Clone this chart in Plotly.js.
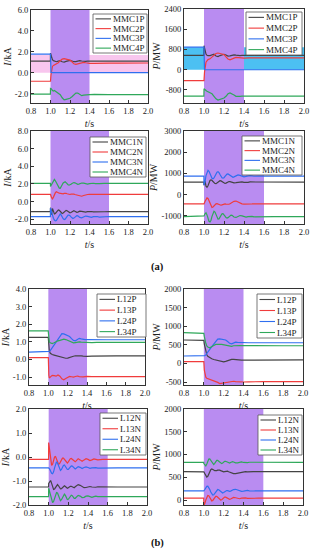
<!DOCTYPE html>
<html><head><meta charset="utf-8">
<script src="https://cdn.plot.ly/plotly-3.0.1.min.js"></script>
<style>html,body{margin:0;padding:0;background:#fff}#chart{width:314px;height:550px}</style>
</head><body><div id="chart"></div>
<script>
// ---------- time axes ----------
const tP = [0.8, 0.999, 1.0, 1.005, 1.01, 1.02, 1.03, 1.04, 1.06, 1.08, 1.10, 1.12, 1.14, 1.16, 1.18, 1.20, 1.22, 1.24, 1.26, 1.28, 1.30, 1.32, 1.34, 1.36, 1.38, 1.40, 1.45, 1.50, 1.55, 1.60, 1.70, 1.80, 1.90, 2.0];
const tN = [0.8, 0.999, 1.00, 1.01, 1.02, 1.03, 1.04, 1.05, 1.06, 1.07, 1.08, 1.09, 1.10, 1.11, 1.12, 1.13, 1.14, 1.15, 1.16, 1.17, 1.18, 1.19, 1.20, 1.21, 1.22, 1.23, 1.24, 1.25, 1.26, 1.27, 1.28, 1.29, 1.30, 1.32, 1.34, 1.36, 1.38, 1.40, 1.42, 1.44, 1.46, 1.48, 1.50, 1.55, 1.60, 1.70, 1.80, 1.90, 2.0];

// ---------- (a) MMC positive pole currents, kA ----------
const I_MMC1P = [1.1, 1.1, 1.88, 1.7, 1.45, 1.25, 1.15, 1.1, 1.05, 1.1, 1.15, 1.05, 1.02, 1.08, 1.15, 1.18, 1.12, 1.05, 1.06, 1.12, 1.15, 1.12, 1.08, 1.08, 1.1, 1.12, 1.1, 1.1, 1.12, 1.1, 1.1, 1.1, 1.11, 1.1];
const I_MMC2P = [-0.82, -0.82, -0.8, -0.2, 0.3, 0.6, 0.7, 0.75, 0.8, 0.95, 1.15, 1.3, 1.35, 1.3, 1.25, 1.2, 1.05, 0.85, 0.8, 0.85, 0.95, 1.0, 0.98, 0.95, 0.92, 0.9, 0.9, 0.92, 0.9, 0.92, 0.92, 0.93, 0.93, 0.93];
const I_MMC3P = [1.78, 1.78, 1.78, 0.02, 0, 0, 0, 0, 0, 0, 0, 0, 0, 0, 0, 0, 0, 0, 0, 0, 0, 0, 0, 0, 0, 0, 0, 0, 0, 0, 0, 0, 0, 0];
const I_MMC4P = [-2.05, -2.05, -1.5, -1.5, -1.55, -1.7, -1.75, -1.7, -1.85, -1.95, -2.1, -2.4, -2.6, -2.55, -2.5, -2.45, -2.3, -2.1, -1.95, -1.95, -2.1, -2.2, -2.15, -2.12, -2.1, -2.1, -2.08, -2.1, -2.1, -2.1, -2.1, -2.1, -2.1, -2.1];
// ---------- (a) MMC positive pole power, MW ----------
const P_MMC1P = [570, 570, 950, 850, 720, 620, 570, 555, 560, 600, 610, 540, 520, 560, 600, 610, 580, 540, 545, 580, 590, 575, 560, 560, 565, 570, 565, 570, 575, 570, 570, 570, 572, 570];
const P_MMC2P = [-430, -430, -430, -100, 150, 300, 350, 400, 430, 500, 580, 640, 660, 650, 620, 600, 520, 420, 390, 410, 460, 490, 480, 470, 460, 460, 465, 470, 465, 468, 468, 470, 470, 470];
const P_MMC3P = [893, 893, 893, 10, 0, 0, 0, 0, 0, 0, 0, 0, 0, 0, 0, 0, 0, 0, 0, 0, 0, 0, 0, 0, 0, 0, 0, 0, 0, 0, 0, 0, 0, 0];
const P_MMC4P = [-1040, -1040, -750, -760, -780, -820, -850, -870, -900, -950, -1050, -1150, -1200, -1180, -1150, -1120, -1050, -950, -920, -950, -1000, -1050, -1060, -1050, -1045, -1040, -1035, -1040, -1040, -1040, -1040, -1040, -1040, -1040];
// ---------- (a) MMC negative pole currents, kA ----------
const I_MMC1N = [-1.15, -1.15, -0.7, -1.5, -0.8, -1.1, -1.4, -1.35, -1.2, -1.05, -0.95, -1.0, -1.15, -1.3, -1.35, -1.3, -1.2, -1.05, -1.0, -1.05, -1.15, -1.25, -1.28, -1.25, -1.15, -1.08, -1.05, -1.1, -1.18, -1.22, -1.2, -1.15, -1.1, -1.12, -1.18, -1.2, -1.15, -1.12, -1.13, -1.17, -1.18, -1.15, -1.14, -1.16, -1.15, -1.15, -1.15, -1.15, -1.15];
const I_MMC2N = [0.82, 0.82, 0.8, 0.45, 0.3, 0.5, 0.8, 1.0, 1.1, 1.08, 1.0, 0.95, 0.92, 0.88, 0.85, 0.88, 0.92, 0.95, 0.93, 0.88, 0.83, 0.8, 0.8, 0.83, 0.86, 0.86, 0.84, 0.8, 0.78, 0.76, 0.72, 0.68, 0.64, 0.6, 0.68, 0.76, 0.8, 0.82, 0.8, 0.82, 0.83, 0.82, 0.8, 0.82, 0.82, 0.82, 0.82, 0.82, 0.82];
const I_MMC3N = [-1.72, -1.72, -0.75, -1.2, -1.6, -1.9, -2.1, -2.2, -2.15, -1.95, -1.65, -1.45, -1.4, -1.55, -1.8, -1.95, -2.05, -2.0, -1.85, -1.65, -1.55, -1.55, -1.6, -1.75, -1.88, -1.92, -1.88, -1.78, -1.65, -1.6, -1.62, -1.7, -1.8, -1.85, -1.75, -1.65, -1.68, -1.78, -1.8, -1.72, -1.67, -1.7, -1.76, -1.72, -1.7, -1.72, -1.72, -1.72, -1.72];
const I_MMC4N = [2.05, 2.05, 1.7, 1.9, 2.25, 2.45, 2.5, 2.35, 2.1, 1.85, 1.65, 1.52, 1.5, 1.65, 1.9, 2.1, 2.22, 2.25, 2.15, 2.0, 1.9, 1.85, 1.87, 1.95, 2.05, 2.12, 2.15, 2.12, 2.05, 1.98, 1.95, 1.97, 2.02, 2.1, 2.08, 2.0, 1.98, 2.03, 2.08, 2.07, 2.02, 2.01, 2.04, 2.06, 2.05, 2.05, 2.05, 2.05, 2.05];
// ---------- (a) MMC negative pole power, MW ----------
const P_MMC1N = [590, 590, 450, 650, 400, 350, 420, 560, 670, 700, 680, 620, 560, 525, 520, 550, 600, 645, 660, 650, 610, 565, 535, 530, 545, 575, 605, 620, 615, 600, 580, 565, 560, 565, 590, 610, 605, 585, 570, 580, 600, 600, 590, 588, 592, 590, 590, 590, 590];
const P_MMC2N = [-430, -430, -430, -320, -200, -150, -180, -300, -450, -560, -600, -580, -520, -460, -430, -420, -440, -470, -490, -495, -480, -455, -440, -435, -440, -450, -455, -450, -430, -400, -360, -330, -310, -300, -340, -400, -430, -440, -430, -420, -430, -435, -430, -425, -430, -430, -430, -430, -430];
const P_MMC3N = [875, 875, 450, 600, 900, 1100, 1150, 1100, 980, 850, 770, 750, 790, 880, 990, 1060, 1080, 1040, 950, 860, 800, 780, 800, 860, 930, 970, 980, 950, 900, 850, 825, 820, 840, 900, 930, 910, 865, 845, 860, 895, 900, 885, 870, 880, 875, 875, 875, 875, 875];
const P_MMC4N = [-1030, -1030, -1000, -900, -850, -950, -1120, -1250, -1280, -1200, -1020, -850, -780, -820, -950, -1080, -1150, -1140, -1060, -960, -900, -890, -930, -1010, -1080, -1100, -1080, -1030, -980, -960, -975, -1010, -1050, -1070, -1010, -980, -1000, -1045, -1055, -1030, -1010, -1020, -1040, -1030, -1030, -1030, -1030, -1030, -1030];
// ---------- (b) line positive pole currents, kA ----------
const I_L12P = [1.25, 1.25, 1.2, 0.8, 0.5, 0.35, 0.3, 0.28, 0.25, 0.22, 0.2, 0.17, 0.12, 0.09, 0.07, 0.08, 0.1, 0.14, 0.18, 0.21, 0.22, 0.21, 0.2, 0.19, 0.18, 0.18, 0.19, 0.2, 0.2, 0.19, 0.2, 0.2, 0.2, 0.2];
const I_L13P = [0.1, 0.1, 0.1, -0.9, -1.05, -1.0, -0.95, -0.9, -0.92, -0.95, -0.88, -0.95, -1.1, -1.15, -1.08, -1.02, -0.96, -0.98, -1.0, -0.97, -0.94, -0.97, -1.0, -0.99, -0.97, -0.96, -0.98, -0.97, -0.96, -0.97, -0.97, -0.97, -0.97, -0.97];
const I_L24P = [0.42, 0.42, 0.42, 0.44, 0.46, 0.5, 0.58, 0.68, 0.88, 1.05, 1.2, 1.35, 1.47, 1.45, 1.4, 1.37, 1.3, 1.18, 1.08, 1.06, 1.15, 1.2, 1.17, 1.14, 1.13, 1.13, 1.12, 1.14, 1.12, 1.12, 1.12, 1.12, 1.12, 1.12];
const I_L34P = [1.62, 1.62, 1.55, 1.1, 1.0, 0.95, 0.92, 0.9, 0.95, 1.02, 1.06, 1.08, 1.12, 1.15, 1.13, 1.08, 1.02, 0.96, 0.94, 0.96, 1.0, 1.0, 0.98, 0.97, 0.97, 0.97, 0.96, 0.97, 0.97, 0.97, 0.97, 0.97, 0.97, 0.97];
// ---------- (b) line positive pole power, MW ----------
const P_L12P = [630, 630, 620, 520, 440, 330, 230, 190, 150, 125, 105, 90, 70, 55, 45, 40, 55, 75, 95, 110, 108, 100, 95, 92, 90, 90, 92, 95, 95, 95, 95, 95, 95, 95];
const P_L13P = [50, 50, 50, -180, -300, -370, -400, -410, -420, -430, -450, -470, -510, -540, -530, -520, -505, -490, -480, -470, -480, -490, -495, -498, -500, -500, -495, -490, -490, -490, -490, -490, -490, -490];
const P_L24P = [200, 200, 200, 205, 210, 230, 270, 320, 390, 450, 520, 600, 655, 660, 655, 648, 630, 590, 540, 525, 545, 570, 565, 560, 558, 556, 555, 555, 555, 555, 555, 555, 555, 555];
const P_L34P = [825, 825, 810, 720, 640, 540, 470, 440, 420, 440, 480, 510, 520, 515, 510, 500, 480, 465, 455, 460, 475, 482, 480, 478, 476, 475, 474, 475, 475, 475, 475, 475, 475, 475];
// ---------- (b) line negative pole currents, kA ----------
const I_L12N = [-1.25, -1.25, -1.1, -1.0, -0.98, -1.1, -1.25, -1.35, -1.33, -1.25, -1.17, -1.15, -1.2, -1.28, -1.33, -1.32, -1.27, -1.22, -1.2, -1.23, -1.28, -1.3, -1.28, -1.24, -1.22, -1.22, -1.25, -1.28, -1.28, -1.24, -1.2, -1.16, -1.15, -1.18, -1.24, -1.28, -1.27, -1.24, -1.23, -1.25, -1.27, -1.26, -1.24, -1.25, -1.25, -1.25, -1.25, -1.25, -1.25];
const I_L13N = [-0.1, -0.1, 0.6, 0.2, -0.2, -0.35, -0.3, -0.15, 0.0, 0.02, -0.1, -0.22, -0.3, -0.28, -0.2, -0.1, -0.05, -0.05, -0.1, -0.18, -0.23, -0.25, -0.2, -0.12, -0.07, -0.06, -0.1, -0.15, -0.2, -0.2, -0.16, -0.1, -0.07, -0.12, -0.18, -0.12, -0.07, -0.1, -0.15, -0.12, -0.08, -0.1, -0.12, -0.1, -0.1, -0.1, -0.1, -0.1, -0.1];
const I_L24N = [-0.45, -0.45, -0.45, -0.5, -0.6, -0.68, -0.7, -0.62, -0.45, -0.3, -0.2, -0.25, -0.38, -0.5, -0.56, -0.52, -0.43, -0.35, -0.33, -0.38, -0.46, -0.52, -0.52, -0.47, -0.4, -0.37, -0.38, -0.43, -0.48, -0.5, -0.47, -0.42, -0.4, -0.43, -0.48, -0.44, -0.41, -0.44, -0.47, -0.45, -0.43, -0.44, -0.46, -0.45, -0.45, -0.45, -0.45, -0.45, -0.45];
const I_L34N = [-1.65, -1.65, -1.3, -1.45, -1.65, -1.82, -1.9, -1.85, -1.7, -1.55, -1.48, -1.5, -1.62, -1.75, -1.82, -1.78, -1.68, -1.58, -1.55, -1.6, -1.7, -1.77, -1.76, -1.7, -1.62, -1.59, -1.61, -1.67, -1.72, -1.72, -1.68, -1.63, -1.6, -1.63, -1.69, -1.68, -1.63, -1.62, -1.66, -1.68, -1.65, -1.63, -1.65, -1.66, -1.65, -1.65, -1.65, -1.65, -1.65];
// ---------- (b) line negative pole power, MW ----------
const P_L12N = [625, 625, 620, 580, 530, 505, 520, 570, 630, 665, 680, 675, 660, 645, 640, 645, 655, 660, 655, 645, 630, 620, 618, 622, 630, 635, 632, 622, 610, 598, 588, 582, 580, 580, 590, 605, 620, 628, 625, 618, 615, 620, 625, 622, 625, 625, 625, 625, 625];
const P_L13N = [40, 40, -120, -80, 0, 70, 100, 95, 50, 0, -20, -10, 25, 60, 80, 80, 60, 35, 10, 0, 5, 25, 50, 62, 62, 50, 32, 18, 15, 22, 38, 52, 58, 50, 30, 28, 42, 52, 48, 35, 33, 42, 45, 40, 40, 40, 40, 40, 40];
const P_L24N = [200, 200, 200, 230, 270, 300, 305, 280, 230, 175, 130, 110, 115, 145, 185, 215, 230, 225, 205, 180, 160, 155, 165, 185, 200, 208, 205, 195, 190, 195, 208, 222, 230, 235, 220, 200, 190, 195, 208, 210, 202, 195, 198, 202, 200, 200, 200, 200, 200];
const P_L34N = [825, 825, 800, 760, 750, 790, 860, 900, 905, 870, 820, 785, 780, 805, 845, 870, 870, 850, 820, 800, 800, 815, 835, 850, 850, 838, 820, 810, 812, 825, 838, 842, 835, 815, 815, 832, 838, 825, 815, 820, 830, 830, 822, 825, 825, 825, 825, 825, 825];

// ---------- labels, ticks, bands ----------
const namesMMC_P = ['MMC1P', 'MMC2P', 'MMC3P', 'MMC4P'];
const namesMMC_N = ['MMC1N', 'MMC2N', 'MMC3N', 'MMC4N'];
const namesL_P = ['L12P', 'L13P', 'L24P', 'L34P'];
const namesL_N = ['L12N', 'L13N', 'L24N', 'L34N'];
const xTickVals = [0.8, 1.0, 1.2, 1.4, 1.6, 1.8, 2.0];
const xTickText = ['0.8', '1.0', '1.2', '1.4', '1.6', '1.8', '2.0'];
const yTicks1 = [-2, 0, 2, 4, 6];           const yText1 = ['-2.0', '0.0', '2.0', '4.0', '6.0'];
const yTicks2 = [-800, 0, 800, 1600, 2400]; const yText2 = ['-800', '0', '800', '1600', '2400'];
const yTicks3 = [-2, 0, 2, 4, 6, 8];        const yText3 = ['-2.0', '0.0', '2.0', '4.0', '6.0', '8.0'];
const yTicks4 = [-1000, 0, 1000, 2000, 3000]; const yText4 = ['-1000', '0', '1000', '2000', '3000'];
const yTicks5 = [-1, 0, 1, 2, 3, 4];        const yText5 = ['-1.0', '0.0', '1.0', '2.0', '3.0', '4.0'];
const yTicks6 = [-500, 0, 500, 1000, 1500, 2000]; const yText6 = ['-500', '0', '500', '1000', '1500', '2000'];
const yTicks7 = [-2, -1, 0, 1, 2];          const yText7 = ['-2.0', '-1.0', '0.0', '1.0', '2.0'];
const yTicks8 = [0, 500, 1000, 1500, 2000]; const yText8 = ['0', '500', '1000', '1500', '2000'];
const faultWindows = [[1.0, 1.4], [1.0, 1.4], [1.0, 1.6], [1.0, 1.6], [1.0, 1.4], [1.0, 1.4], [1.0, 1.6], [1.0, 1.6]];
const pinkBand = [0, 1.7];     // panel 1
const cyanBand = [0, 893];     // panel 2

// ---------- styling / layout ----------
const W = 314, H = 550;
const F = 'Liberation Serif, Times New Roman, serif';
const COLORS = ['#444444', '#f03c3c', '#2f6fef', '#2fa85a'];
const PURPLE = '#b98cf1';

// panel pixel boxes: [left, top, right, bottom]
const panels = [
  {box: [31, 10, 148, 103], range: [-2.9, 6], tv: yTicks1, tt: yText1, yt: '<i>I</i>/kA', t: tP, ys: [I_MMC1P, I_MMC2P, I_MMC3P, I_MMC4P], names: namesMMC_P, leg: [93, 14, 147, 53]},
  {box: [184, 9, 304, 103], range: [-1315, 2400], tv: yTicks2, tt: yText2, yt: '<i>P</i>/MW', t: tP, ys: [P_MMC1P, P_MMC2P, P_MMC3P, P_MMC4P], names: namesMMC_P, leg: [246, 12, 302, 55]},
  {box: [31, 131, 148, 224], range: [-2.55, 8], tv: yTicks3, tt: yText3, yt: '<i>I</i>/kA', t: tN, ys: [I_MMC1N, I_MMC2N, I_MMC3N, I_MMC4N], names: namesMMC_N, leg: [90, 137, 146, 177]},
  {box: [184, 131, 304, 224], range: [-1380, 3000], tv: yTicks4, tt: yText4, yt: '<i>P</i>/MW', t: tN, ys: [P_MMC1N, P_MMC2N, P_MMC3N, P_MMC4N], names: namesMMC_N, leg: [242, 136, 302, 175]},
  {box: [29, 289, 145, 385], range: [-1.45, 4], tv: yTicks5, tt: yText5, yt: '<i>I</i>/kA', t: tP, ys: [I_L12P, I_L13P, I_L24P, I_L34P], names: namesL_P, leg: [97, 294, 146, 337]},
  {box: [184, 289, 303, 385], range: [-580, 2000], tv: yTicks6, tt: yText6, yt: '<i>P</i>/MW', t: tP, ys: [P_L12P, P_L13P, P_L24P, P_L34P], names: namesL_P, leg: [257, 294, 302, 338]},
  {box: [29, 409, 147, 505], range: [-2, 2], tv: yTicks7, tt: yText7, yt: '<i>I</i>/kA', t: tN, ys: [I_L12N, I_L13N, I_L24N, I_L34N], names: namesL_N, leg: [100, 413, 146, 455]},
  {box: [184, 409, 303, 505], range: [-110, 2000], tv: yTicks8, tt: yText8, yt: '<i>P</i>/MW', t: tN, ys: [P_L12N, P_L13N, P_L24N, P_L34N], names: namesL_N, leg: [258, 415, 302, 455]}
];

const data = [], shapes = [], annotations = [];
const layout = {
  width: W, height: H, margin: {l: 0, r: 0, t: 0, b: 0},
  paper_bgcolor: '#fff', plot_bgcolor: '#fff', showlegend: false,
  font: {family: F, color: '#222'}
};

panels.forEach((p, k) => {
  const sfx = k === 0 ? '' : String(k + 1);
  const xa = 'x' + sfx, ya = 'y' + sfx;
  const [l, t, r, b] = p.box;
  layout['xaxis' + sfx] = {
    domain: [l / W, r / W], anchor: ya, range: [0.8, 2.0],
    tickmode: 'array', tickvals: xTickVals, ticktext: xTickText,
    ticks: 'inside', ticklen: 3, tickcolor: '#333', showline: true, linecolor: '#333', linewidth: 1, mirror: true,
    showgrid: false, zeroline: false, fixedrange: true,
    tickfont: {family: F, size: 8.5, color: '#222'},
    title: {text: '<i>t</i>/s', font: {family: F, size: 10, color: '#222'}, standoff: 4}
  };
  layout['yaxis' + sfx] = {
    domain: [1 - b / H, 1 - t / H], anchor: xa, range: p.range,
    tickmode: 'array', tickvals: p.tv, ticktext: p.tt,
    ticks: 'inside', ticklen: 3, tickcolor: '#333', showline: true, linecolor: '#333', linewidth: 1, mirror: true,
    showgrid: false, zeroline: false, fixedrange: true,
    tickfont: {family: F, size: 8.5, color: '#222'},
    title: {text: p.yt, font: {family: F, size: 10, color: '#222'}, standoff: 1}
  };
  // bands
  if (k === 0) shapes.push({type: 'rect', xref: xa + ' domain', yref: ya, x0: 0, x1: 1, y0: pinkBand[0], y1: pinkBand[1], fillcolor: '#f8c6ee', line: {width: 0}, layer: 'below'});
  if (k === 1) shapes.push({type: 'rect', xref: xa + ' domain', yref: ya, x0: 0, x1: 1, y0: cyanBand[0], y1: cyanBand[1], fillcolor: '#4cc0f2', line: {width: 0}, layer: 'below'});
  shapes.push({type: 'rect', xref: xa, yref: ya + ' domain', x0: faultWindows[k][0], x1: faultWindows[k][1], y0: 0, y1: 1, fillcolor: PURPLE, line: {width: 0}, layer: 'below'});
  // traces
  p.ys.forEach((y, i) => {
    data.push({type: 'scatter', mode: 'lines', x: p.t, y: y, xaxis: xa, yaxis: ya, name: p.names[i],
      line: {color: COLORS[i], width: 1.2}, hoverinfo: 'skip', showlegend: false, cliponaxis: true});
  });
  // legend (manual, compact like the original)
  const [ll, lt, lr, lb] = p.leg;
  shapes.push({type: 'rect', xref: 'paper', yref: 'paper', x0: ll / W, x1: lr / W, y0: 1 - lb / H, y1: 1 - lt / H,
    fillcolor: '#fff', line: {color: '#555', width: 0.8}, layer: 'above'});
  const step = (lb - lt) / p.names.length;
  p.names.forEach((n, i) => {
    const yc = lt + step * (i + 0.5);
    shapes.push({type: 'line', xref: 'paper', yref: 'paper', x0: (ll + 2.5) / W, x1: (ll + 18) / W, y0: 1 - yc / H, y1: 1 - yc / H,
      line: {color: COLORS[i], width: 1.1}, layer: 'above'});
    annotations.push({xref: 'paper', yref: 'paper', x: (ll + 19) / W, y: 1 - yc / H, xanchor: 'left', yanchor: 'middle',
      text: n, showarrow: false, borderpad: 0, font: {family: F, size: 9, color: '#222'}});
  });
});

annotations.push({xref: 'paper', yref: 'paper', x: 157 / W, y: 1 - 267 / H, xanchor: 'center', yanchor: 'middle', text: '<b>(a)</b>', showarrow: false, font: {family: F, size: 10.5, color: '#111'}});
annotations.push({xref: 'paper', yref: 'paper', x: 157 / W, y: 1 - 543 / H, xanchor: 'center', yanchor: 'middle', text: '<b>(b)</b>', showarrow: false, font: {family: F, size: 10.5, color: '#111'}});

layout.shapes = shapes;
layout.annotations = annotations;
Plotly.newPlot('chart', data, layout, {staticPlot: true, displayModeBar: false});
</script>
</body></html>
